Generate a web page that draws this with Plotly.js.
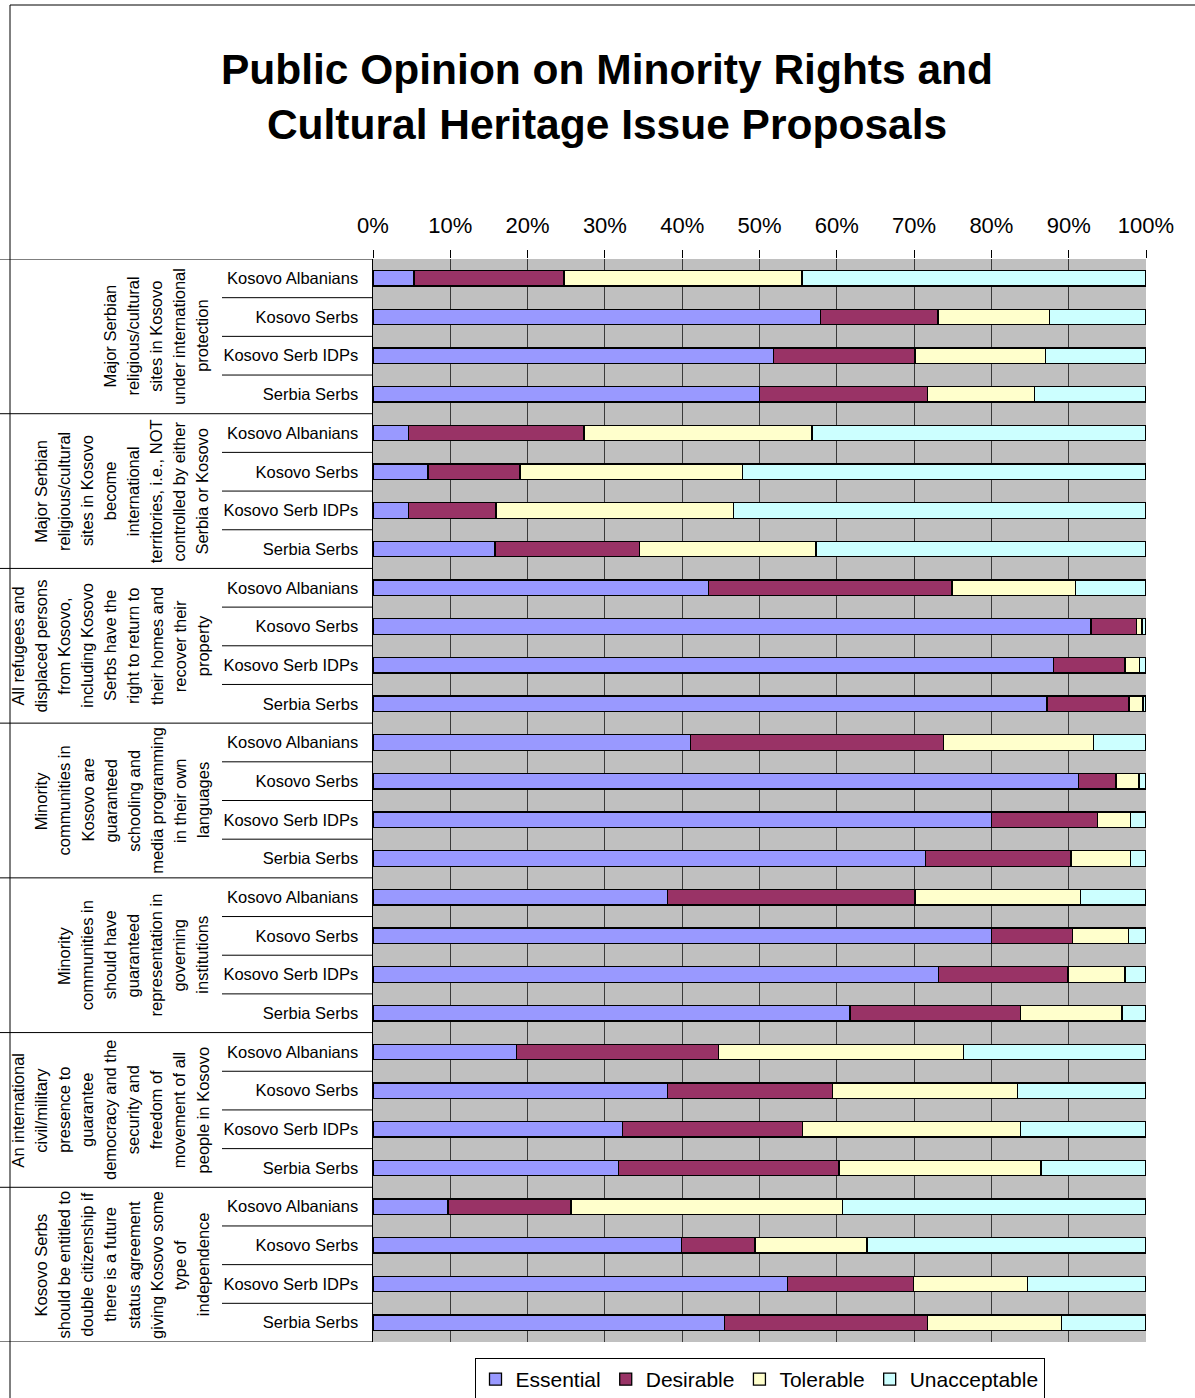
<!DOCTYPE html>
<html>
<head>
<meta charset="utf-8">
<script src="https://cdn.plot.ly/plotly-3.0.1.min.js"></script>
<style>
  html, body { margin: 0; padding: 0; background: #fff; }
  #chart { width: 1195px; height: 1398px; }
</style>
</head>
<body>
<div id="chart"></div>
<script>
// ---------------- DATA ----------------
const seriesNames = ["Essential", "Desirable", "Tolerable", "Unacceptable"];
const respondents = ["Kosovo Albanians", "Kosovo Serbs", "Kosovo Serb IDPs", "Serbia Serbs"];
const proposals = [
  ["Major Serbian", "religious/cultural", "sites in Kosovo", "under international", "protection"],
  ["Major Serbian", "religious/cultural", "sites in Kosovo", "become", "international", "territories, i.e., NOT", "controlled by either", "Serbia or Kosovo"],
  ["All refugees and", "displaced persons", "from Kosovo,", "including Kosovo", "Serbs have the", "right to return to", "their homes and", "recover their", "property"],
  ["Minority", "communities in", "Kosovo are", "guaranteed", "schooling and", "media programming", "in their own", "languages"],
  ["Minority", "communities in", "should have", "guaranteed", "representation in", "governing", "institutions"],
  ["An international", "civil/military", "presence to", "guarantee", "democracy and the", "security and", "freedom of", "movement of all", "people in Kosovo"],
  ["Kosovo Serbs", "should be entitled to", "double citizenship if", "there is a future", "status agreement", "giving Kosovo some", "type of", "independence"]
];
// values in %, rows ordered: proposal 1 (KA, KS, IDPs, SS), proposal 2 ..., top to bottom
const essential = [
  5.3, 57.9, 51.8, 50.0,
  4.6, 7.1, 4.6, 15.8,
  43.4, 92.9, 88.0, 87.2,
  41.1, 91.3, 80.0, 71.5,
  38.1, 80.0, 73.2, 61.7,
  18.6, 38.1, 32.3, 31.8,
  9.7, 39.9, 53.6, 45.5
];
const desirable = [
  19.4, 15.2, 18.3, 21.7,
  22.7, 11.9, 11.3, 18.7,
  31.5, 5.9, 9.3, 10.6,
  32.7, 4.8, 13.7, 18.8,
  32.0, 10.5, 16.7, 22.1,
  26.1, 21.3, 23.3, 28.5,
  15.9, 9.5, 16.3, 26.2
];
const tolerable = [
  30.8, 14.4, 16.9, 13.9,
  29.5, 28.8, 30.7, 22.8,
  16.0, 0.7, 1.9, 1.8,
  19.4, 3.0, 4.3, 7.7,
  21.4, 7.2, 7.4, 13.1,
  31.7, 24.0, 28.2, 26.1,
  35.1, 14.5, 14.8, 17.4
];
const unacceptable = [
  44.5, 12.5, 13.0, 14.4,
  43.2, 52.2, 53.4, 42.7,
  9.1, 0.5, 0.8, 0.4,
  6.8, 0.9, 2.0, 2.0,
  8.5, 2.3, 2.7, 3.1,
  23.6, 16.6, 16.2, 13.6,
  39.3, 36.1, 15.3, 10.9
];
const xTickVals = [0, 10, 20, 30, 40, 50, 60, 70, 80, 90, 100];
const xTickText = ["0%", "10%", "20%", "30%", "40%", "50%", "60%", "70%", "80%", "90%", "100%"];
const titleText = "Public Opinion on Minority Rights and<br>Cultural Heritage Issue Proposals";

// ---------------- STYLE / LAYOUT ----------------
const colors = ["#9999FF", "#993366", "#FFFFCC", "#CCFFFF"];
const FONT = "Arial, 'Liberation Sans', sans-serif";
const FIG_W = 1195, FIG_H = 1398;
const M = { l: 373, r: 49, t: 259, b: 56 };
const PW = FIG_W - M.l - M.r, PH = FIG_H - M.t - M.b;
const px2x = p => (p - M.l) / PW;
const px2y = p => (FIG_H - M.b - p) / PH;

const nRows = proposals.length * respondents.length;
const yIdx = Array.from({ length: nRows }, (_, i) => i);
const yText = yIdx.map(i => respondents[i % respondents.length]);

const seriesVals = [essential, desirable, tolerable, unacceptable];
const traces = seriesNames.map((name, k) => ({
  type: "bar",
  orientation: "h",
  name: name,
  x: seriesVals[k],
  y: yIdx,
  width: 0.4,
  marker: { color: colors[k], line: { color: "#000", width: 1.3 } },
  hoverinfo: "name+x"
}));

const shapes = [];
// separators between respondent rows (left label column)
for (let i = 0; i < nRows - 1; i++) {
  if ((i + 1) % respondents.length === 0) continue;
  shapes.push({ type: "line", xref: "paper", yref: "y", x0: px2x(222), x1: 0, y0: i + 0.5, y1: i + 0.5,
    line: { color: "#000", width: 1 } });
}
// separators between proposal groups
for (let g = 0; g <= proposals.length; g++) {
  const yy = g * respondents.length - 0.5;
  shapes.push({ type: "line", xref: "paper", yref: "y", x0: px2x(0), x1: 0, y0: yy, y1: yy,
    line: { color: "#000", width: 1 } });
}
// chart frame (left and top)
shapes.push({ type: "line", xref: "paper", yref: "paper", x0: px2x(10), x1: px2x(10), y0: px2y(5), y1: px2y(FIG_H + 2),
  line: { color: "#000", width: 1 } });
shapes.push({ type: "line", xref: "paper", yref: "paper", x0: px2x(10), x1: px2x(FIG_W + 2), y0: px2y(5), y1: px2y(5),
  line: { color: "#000", width: 1 } });

// group labels: rotated, one annotation per line
const annotations = [];
const LINE_STEP = 23.1, LAST_LINE_X = 202.5;
proposals.forEach((lines, g) => {
  const n = lines.length;
  lines.forEach((t, i) => {
    annotations.push({
      text: t, showarrow: false, textangle: -90,
      xref: "paper", yref: "y",
      x: px2x(LAST_LINE_X - (n - 1 - i) * LINE_STEP),
      y: g * respondents.length + (respondents.length - 1) / 2,
      xanchor: "center", yanchor: "middle",
      font: { family: FONT, size: 16.5, color: "#000" }
    });
  });
});

const layout = {
  width: FIG_W, height: FIG_H,
  margin: M,
  paper_bgcolor: "#fff",
  plot_bgcolor: "#C0C0C0",
  barmode: "stack",
  title: {
    text: titleText,
    font: { family: FONT, size: 42.5, color: "#000", weight: "bold" },
    xref: "container", yref: "container",
    x: 607 / FIG_W, xanchor: "center",
    y: 1 - 84 / FIG_H, yanchor: "top"
  },
  xaxis: {
    side: "top",
    range: [0, 100],
    tickvals: xTickVals, ticktext: xTickText,
    ticks: "outside", ticklen: 8, tickwidth: 1, tickcolor: "#000",
    ticklabelstandoff: 8,
    tickfont: { family: FONT, size: 22, color: "#000" },
    showgrid: true, gridcolor: "#3a3a3a", gridwidth: 1,
    zeroline: false, showline: false, fixedrange: true
  },
  yaxis: {
    range: [nRows - 0.5, -0.5],
    tickvals: yIdx, ticktext: yText,
    ticks: "", ticklabelstandoff: 10,
    tickfont: { family: FONT, size: 16.5, color: "#000" },
    showgrid: false, zeroline: false,
    showline: true, linecolor: "#000", linewidth: 1.5,
    fixedrange: true
  },
  legend: {
    orientation: "h",
    xref: "paper", x: px2x(759.5), xanchor: "center",
    yref: "container", y: 1 - 1358 / FIG_H, yanchor: "top",
    bgcolor: "#fff", bordercolor: "#000", borderwidth: 1,
    font: { family: FONT, size: 21, color: "#000" },
    traceorder: "normal",
    itemclick: false, itemdoubleclick: false
  },
  shapes: shapes,
  annotations: annotations,
  showlegend: true
};

Plotly.newPlot("chart", traces, layout, { displayModeBar: false, staticPlot: true });
</script>
</body>
</html>
